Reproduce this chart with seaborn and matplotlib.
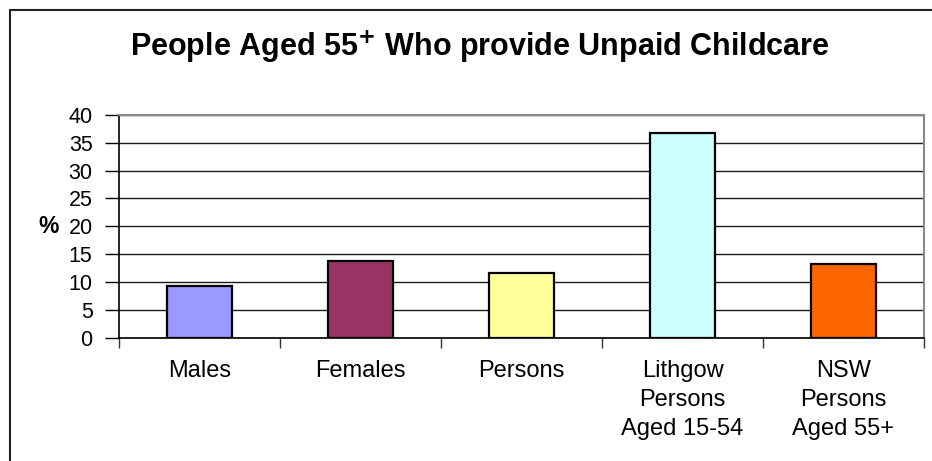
import matplotlib
matplotlib.use("Agg")
import matplotlib.pyplot as plt
from matplotlib.lines import Line2D
from matplotlib.ticker import FixedLocator, NullFormatter
import seaborn as sns
import pandas as pd

categories = ["Males", "Females", "Persons", "Lithgow\nPersons\nAged 15-54", "NSW\nPersons\nAged 55+"]
values = [9.4, 13.8, 11.6, 36.8, 13.2]
colors = ["#9999FF", "#993366", "#FFFF99", "#CCFFFF", "#FF6600"]
y_ticks = [0, 5, 10, 15, 20, 25, 30, 35, 40]

sns.set_theme(style="white")
plt.rcParams["font.family"] = ["Liberation Sans", "DejaVu Sans"]
plt.rcParams.update({"text.color": "black", "axes.labelcolor": "black",
                     "xtick.color": "black", "ytick.color": "black"})

W, H = 932, 461
fig = plt.figure(figsize=(W / 100, H / 100), dpi=100)
ax = fig.add_axes([119 / W, 1 - 338 / H, (924 - 119) / W, (338 - 114.7) / H])

df = pd.DataFrame({"category": categories, "value": values})
sns.barplot(data=df, x="category", y="value", hue="category", palette=colors,
            legend=False, width=0.4, edgecolor="black", linewidth=1.6,
            saturation=1, ax=ax, zorder=3)

ax.set_xlim(-0.5, len(categories) - 0.5)
ax.set_ylim(0, 40)
ax.set_yticks(y_ticks)
ax.set_yticklabels([str(t) for t in y_ticks], fontsize=15.5)
ax.yaxis.grid(True, color="#1a1a1a", linewidth=1.0, zorder=0)
ax.set_axisbelow(True)

# category separators as major ticks, names on minor ticks at bar centres
ax.xaxis.set_major_locator(FixedLocator([i - 0.5 for i in range(len(categories) + 1)]))
ax.xaxis.set_major_formatter(NullFormatter())
ax.xaxis.set_minor_locator(FixedLocator(list(range(len(categories)))))
ax.set_xticklabels(categories, minor=True, fontsize=17, linespacing=1.4)
ax.tick_params(axis="x", which="major", direction="out", length=7, width=1,
               color="#333333", bottom=True)
ax.tick_params(axis="x", which="minor", length=0, pad=16)
ax.tick_params(axis="y", direction="out", length=10, width=1, color="black",
               left=True, pad=9)
ax.set_xlabel("")
ax.set_ylabel("%", fontsize=16.5, fontweight="bold", rotation=0, va="center", ha="center")
ax.yaxis.set_label_coords(-0.0876, 0.5)

for side in ["left", "bottom"]:
    ax.spines[side].set_color("black")
    ax.spines[side].set_linewidth(1.2)
for side in ["top", "right"]:
    ax.spines[side].set_color("#888888")
    ax.spines[side].set_linewidth(1.5)
    ax.spines[side].set_visible(True)

fig.text(0.515, 1 - 47 / H, "People Aged 55$^{\\mathbf{+}}$ Who provide Unpaid Childcare",
         ha="center", va="center", fontsize=22, fontweight="bold")

# outer chart frame
fig.add_artist(Line2D([10 / W, 1], [1 - 10 / H, 1 - 10 / H], color="#222222", linewidth=1.5))
fig.add_artist(Line2D([10 / W, 10 / W], [0, 1 - 10 / H], color="#222222", linewidth=1.5))

fig.savefig("out.png", dpi=100)
